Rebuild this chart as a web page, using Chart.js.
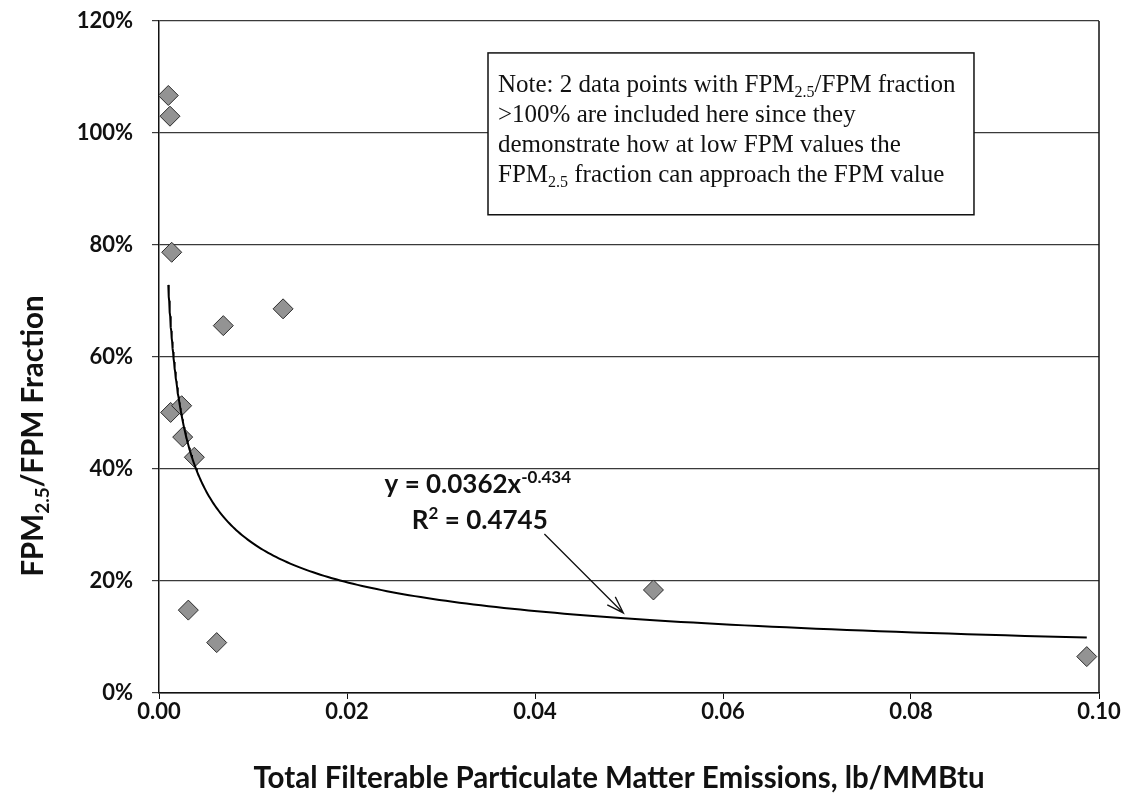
<!DOCTYPE html>
<html>
<head>
<meta charset="utf-8">
<script src="https://cdn.jsdelivr.net/npm/chart.js@4.4.1/dist/chart.umd.min.js"></script>
<style>
  html, body { margin: 0; padding: 0; background: #fff; }
  #wrap { width: 1129px; height: 794px; }
</style>
</head>
<body>
<div id="wrap"><canvas id="fpmChart"></canvas></div>
<script>
// total filterable PM (lb/MMBtu) and FPM2.5 share of it (%) per test
const fpmEmissions = [0.00099, 0.00117, 0.00135, 0.00684, 0.0132, 0.00124, 0.00241, 0.00252, 0.00376, 0.00312, 0.00614, 0.0526, 0.0987];
const pm25Fraction = [106.7, 103.0, 78.7, 65.6, 68.6, 50.1, 51.3, 45.7, 42.1, 14.8, 9.0, 18.4, 6.5];

// power-law fit y = a * x^b (y as a fraction)
const trendCoef = 0.0362;
const trendExp = -0.434;
const trendR2 = 0.4745;

const xTicks = [0, 0.02, 0.04, 0.06, 0.08, 0.10];
const yTicks = [0, 20, 40, 60, 80, 100, 120];

const noteLines = [
    [['Note: 2 data points with FPM'], ['2.5', 'sub'], ['/FPM fraction']],
    [['>100% are included here since they']],
    [['demonstrate how at low FPM values the']],
    [['FPM'], ['2.5', 'sub'], [' fraction can approach the FPM value']]
];

// fitted curve sampled over the measured x range
const xLo = Math.min(...fpmEmissions);
const xHi = Math.max(...fpmEmissions);
const trendPoints = [];
for (let i = 0; i <= 200; i++) {
    const x = xLo * Math.pow(xHi / xLo, i / 200);
    trendPoints.push({ x: x, y: trendCoef * Math.pow(x, trendExp) * 100 });
}

const SANS = 'Lato, "Open Sans", sans-serif';
const SERIF = '"Liberation Serif", "DejaVu Serif", serif';

// draws text pieces with sub/superscripts, returns total width
function richText(ctx, parts, x, y, size, family, weight, measureOnly) {
    let cx = x;
    parts.forEach(([t, mode]) => {
        const s = mode ? Math.round(size * 0.64) : size;
        ctx.font = `${weight} ${s}px ${family}`;
        const dy = mode === 'sub' ? size * 0.2 : (mode === 'sup' ? -size * 0.4 : 0);
        if (!measureOnly) ctx.fillText(t, cx, y + dy);
        cx += ctx.measureText(t).width;
    });
    return cx - x;
}

const extras = {
    id: 'extras',
    afterDraw(chart) {
        const ctx = chart.ctx;
        const xs = chart.scales.x, ys = chart.scales.y;
        const area = chart.chartArea;
        const px = v => xs.getPixelForValue(v);
        const py = v => ys.getPixelForValue(v);

        ctx.save();
        // right edge of plot frame
        ctx.strokeStyle = '#111';
        ctx.lineWidth = 1.5;
        ctx.beginPath();
        ctx.moveTo(area.right, area.top);
        ctx.lineTo(area.right, area.bottom);
        ctx.stroke();

        // note box
        const bx0 = px(0.0350), bx1 = px(0.0867), by0 = py(114.3), by1 = py(85.4);
        ctx.fillStyle = '#fff';
        ctx.fillRect(bx0, by0, bx1 - bx0, by1 - by0);
        ctx.strokeStyle = '#111';
        ctx.lineWidth = 1.5;
        ctx.strokeRect(bx0, by0, bx1 - bx0, by1 - by0);
        ctx.fillStyle = '#111';
        ctx.textBaseline = 'alphabetic';
        ctx.textAlign = 'left';
        noteLines.forEach((line, i) => {
            richText(ctx, line, bx0 + 10, by0 + 39 + i * 30, 25, SERIF, 'normal');
        });

        // trendline equation and R²
        richText(ctx, [['y = ' + trendCoef + 'x'], [String(trendExp), 'sup']],
            px(0.0240), py(35.7), 26, SANS, 'bold');
        richText(ctx, [['R'], ['2', 'sup'], [' = ' + trendR2]],
            px(0.0269), py(29.3), 26, SANS, 'bold');

        // arrow from label to curve
        const ax0 = px(0.0410), ay0 = py(28.4), ax1 = px(0.0494), ay1 = py(14.3);
        const ang = Math.atan2(ay1 - ay0, ax1 - ax0);
        ctx.strokeStyle = '#111';
        ctx.lineWidth = 1.3;
        ctx.beginPath();
        ctx.moveTo(ax0, ay0);
        ctx.lineTo(ax1, ay1);
        ctx.moveTo(ax1 - 18 * Math.cos(ang - 0.32), ay1 - 18 * Math.sin(ang - 0.32));
        ctx.lineTo(ax1, ay1);
        ctx.lineTo(ax1 - 18 * Math.cos(ang + 0.32), ay1 - 18 * Math.sin(ang + 0.32));
        ctx.stroke();

        // axis titles
        ctx.fillStyle = '#111';
        const xTitle = [['Total Filterable Particulate Matter Emissions, lb/MMBtu']];
        const xw = richText(ctx, xTitle, 0, 0, 29.5, SANS, 'bold', true);
        richText(ctx, xTitle, 619 - xw / 2, 788, 29.5, SANS, 'bold');

        const yTitle = [['FPM'], ['2.5', 'sub'], ['/FPM Fraction']];
        const yw = richText(ctx, yTitle, 0, 0, 29.5, SANS, 'bold', true);
        ctx.translate(43, 436);
        ctx.rotate(-Math.PI / 2);
        richText(ctx, yTitle, -yw / 2, 0, 29.5, SANS, 'bold');
        ctx.restore();
    }
};

const tickFont = { family: SANS, weight: 'bold', size: 22 };

new Chart(document.getElementById('fpmChart'), {
    type: 'scatter',
    data: {
        datasets: [
            {
                label: 'FPM2.5/FPM',
                data: fpmEmissions.map((x, i) => ({ x: x, y: pm25Fraction[i] })),
                pointStyle: 'rectRot',
                pointRadius: 10,
                backgroundColor: '#939393',
                borderColor: '#2b2b2b',
                borderWidth: 1,
                order: 2
            },
            {
                label: 'Power trend',
                data: trendPoints,
                showLine: true,
                borderColor: '#000',
                borderWidth: 2,
                pointRadius: 0,
                fill: false,
                order: 1
            }
        ]
    },
    options: {
        responsive: true,
        maintainAspectRatio: false,
        animation: false,
        layout: { padding: { top: 21, right: 30, left: 0, bottom: 0 } },
        plugins: {
            legend: { display: false },
            tooltip: { enabled: false }
        },
        scales: {
            x: {
                type: 'linear',
                min: 0,
                max: 0.1,
                afterFit: s => { s.height = 101; s.paddingLeft = 0; s.paddingRight = 0; },
                afterBuildTicks: s => { s.ticks = xTicks.map(v => ({ value: v })); },
                ticks: {
                    callback: v => v.toFixed(2),
                    font: tickFont,
                    color: '#111',
                    padding: 0
                },
                grid: { drawOnChartArea: false, tickLength: 6, color: '#111' },
                border: { color: '#111', width: 1.5 }
            },
            y: {
                min: 0,
                max: 120,
                afterFit: s => { s.width = 159; s.paddingTop = 0; s.paddingBottom = 0; },
                afterBuildTicks: s => { s.ticks = yTicks.map(v => ({ value: v })); },
                ticks: {
                    callback: v => v + '%',
                    font: tickFont,
                    color: '#111',
                    padding: 19
                },
                grid: { color: '#3a3a3a', lineWidth: 1.2, tickLength: 7 },
                border: { color: '#111', width: 1.5 }
            }
        }
    },
    plugins: [extras]
});
</script>
</body>
</html>
